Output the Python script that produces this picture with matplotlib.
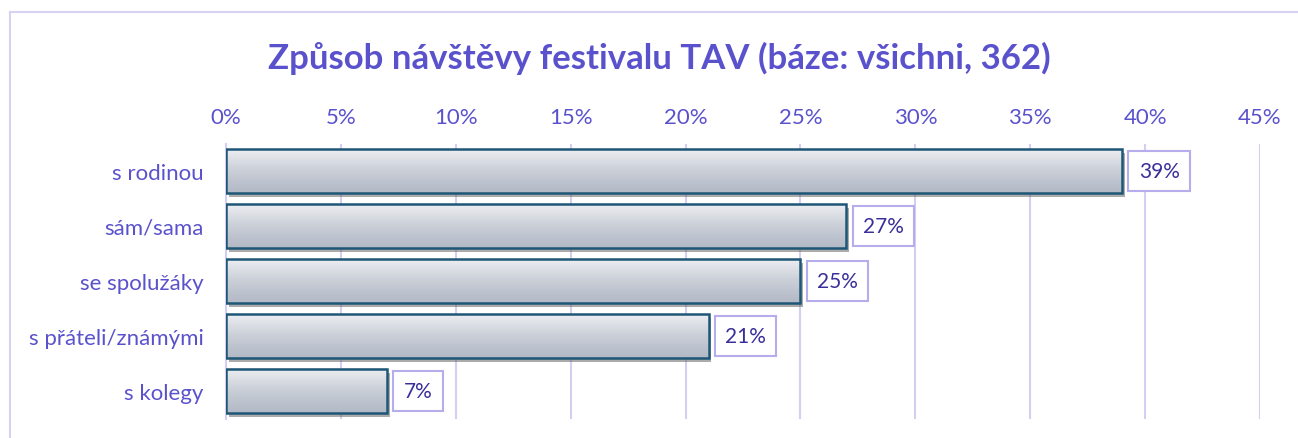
import numpy as np
import matplotlib
matplotlib.use("Agg")
from matplotlib import pyplot as plt
from matplotlib import patheffects as pe
from matplotlib.lines import Line2D

# data
categories = ["s rodinou", "sám/sama", "se spolužáky", "s přáteli/známými", "s kolegy"]
values = [39, 27, 25, 21, 7]
ticks = [0, 5, 10, 15, 20, 25, 30, 35, 40, 45]

txt_col = "#5a52cc"
lbl_col = "#3a2f9a"
grid_col = "#d3cff2"
edge_col = "#1d5676"

plt.rcParams["font.family"] = ["Lato", "DejaVu Sans"]

fig = plt.figure(figsize=(12.98, 4.39), dpi=100)
W, H = 1298, 439
ax = fig.add_axes([226 / W, 1 - 419.5 / H, (1260 - 226) / W, (419.5 - 144.5) / H])

# outer frame (only top and left visible)
fig.add_artist(Line2D([10 / W, 1], [1 - 13 / H, 1 - 13 / H], color="#d6d3f2", lw=1.5, transform=fig.transFigure))
fig.add_artist(Line2D([10 / W, 10 / W], [0, 1 - 13 / H], color="#d6d3f2", lw=1.5, transform=fig.transFigure))

fig.text(659 / W, 1 - 58 / H, "Způsob návštěvy festivalu TAV (báze: všichni, 362)",
         ha="center", va="center", fontsize=25, fontweight="bold", color=txt_col)

y = np.arange(len(categories))
h = 0.8

# shadow
ax.barh(y, values, height=h, color="#888888", edgecolor="none", zorder=2,
        path_effects=[pe.SimplePatchShadow(offset=(2, -3), shadow_rgbFace="#666666", alpha=0.55)])
# gradient fill
grad = np.linspace(0, 1, 64).reshape(-1, 1)
cmap = matplotlib.colors.LinearSegmentedColormap.from_list("g", ["#eceef1", "#c9ced7", "#b2b9c5"])
for yi, v in zip(y, values):
    ax.imshow(grad, extent=[0, v, yi + h / 2, yi - h / 2], aspect="auto", cmap=cmap,
              zorder=3, interpolation="bilinear")
# border
ax.barh(y, values, height=h, color="none", edgecolor=edge_col, lw=1.8, zorder=4)

for yi, v in zip(y, values):
    ax.annotate(f"{v}%", (v, yi), xytext=(12, 0), textcoords="offset points",
                ha="left", va="center", fontsize=15, color=lbl_col, zorder=5,
                bbox=dict(boxstyle="square,pad=0.5", fc="white", ec="#b5adec", lw=1.5))

ax.set_xlim(0, 45)
ax.set_ylim(len(categories) - 0.5, -0.5)
ax.set_xticks(ticks)
ax.set_xticklabels([f"{t}%" for t in ticks])
ax.xaxis.tick_top()
ax.set_yticks(y)
ax.set_yticklabels(categories)
ax.tick_params(axis="both", length=0, labelsize=16, colors=txt_col)
ax.tick_params(axis="x", pad=12)
ax.tick_params(axis="y", pad=16)
ax.grid(axis="x", color=grid_col, lw=1.5, zorder=0)
ax.set_axisbelow(True)
for s in ["top", "right", "bottom"]:
    ax.spines[s].set_visible(False)
ax.spines["left"].set_color(grid_col)
ax.spines["left"].set_linewidth(1.5)

fig.savefig("out.png", dpi=100)
